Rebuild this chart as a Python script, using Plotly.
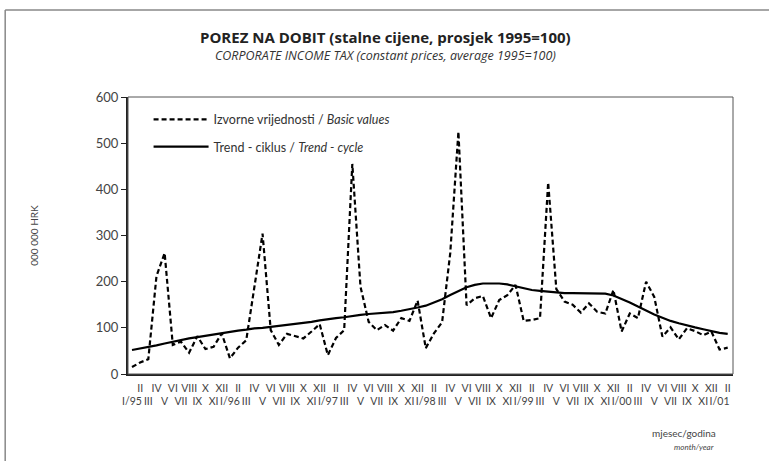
import plotly.graph_objects as go

# monthly data I/1995 - II/2001
roman = ["I", "II", "III", "IV", "V", "VI", "VII", "VIII", "IX", "X", "XI", "XII"]
years = ["95", "96", "97", "98", "99", "00", "01"]

basic_values = [15, 25, 32, 212, 262, 63, 70, 46, 82, 54, 59, 88,
                34, 57, 73, 185, 304, 95, 63, 87, 82, 77, 92, 108,
                41, 78, 95, 455, 189, 113, 95, 106, 94, 121, 115, 159,
                56, 88, 112, 262, 525, 149, 164, 169, 121, 160, 171, 193,
                115, 117, 121, 415, 184, 157, 150, 133, 153, 135, 131, 182,
                92, 131, 121, 200, 167, 81, 101, 75, 99, 93, 84, 92,
                53, 57]

trend_cycle = [52, 55, 59, 62, 66, 70, 74, 77, 80, 83, 86, 89,
               92, 94, 96, 99, 100, 102, 104, 106, 108, 110, 113, 116,
               119, 121, 123, 126, 128, 130, 131, 133, 134, 137, 140, 144,
               148, 155, 162, 171, 180, 188, 193, 196, 196, 196, 194, 190,
               186, 182, 180, 178, 176, 175, 175, 175, 175, 175, 174, 170,
               163, 155, 146, 137, 129, 122, 115, 110, 105, 101, 97, 93,
               89, 87]

n = len(basic_values)
months = list(range(n))

# tick labels: even months on upper row, odd months (with year on January) on lower row
tick_text = []
for i in months:
    m = i % 12
    if m == 0:
        tick_text.append("\u00a0<br>I/" + years[i // 12])
    elif m % 2 == 0:
        tick_text.append("\u00a0<br>" + roman[m])
    else:
        tick_text.append(roman[m])

fig = go.Figure()

fig.add_trace(go.Scatter(
    x=months, y=basic_values, mode="lines", legendgroup="a",
    name="Izvorne vrijednosti / <i>Basic values</i>",
    line=dict(color="black", width=2.2, dash="5px,3px")))

fig.add_trace(go.Scatter(
    x=months, y=trend_cycle, mode="lines", legendgroup="b",
    name="Trend - ciklus / <i>Trend - cycle</i>",
    line=dict(color="black", width=2.2)))

fig.update_layout(
    width=769, height=461,
    margin=dict(l=128, r=36, t=97, b=87),
    paper_bgcolor="white", plot_bgcolor="white",
    font=dict(family="Lato, Open Sans, sans-serif", color="#333333", size=11),
    showlegend=True,
    legend=dict(x=0.034, y=0.972, xanchor="left", yanchor="top",
                bgcolor="rgba(0,0,0,0)", font=dict(size=12.5, color="#333333"),
                itemwidth=55, tracegroupgap=8),
)

fig.update_xaxes(
    range=[-0.49, 73.65], tickmode="array", tickvals=months, ticktext=tick_text,
    tickangle=0, showgrid=False, zeroline=False, ticks="",
    showline=True, linecolor="#222222", linewidth=2, ticklabelstandoff=3,
    tickfont=dict(size=10.5, color="#444444"))

fig.update_yaxes(
    range=[0, 600], dtick=100, showgrid=False, zeroline=False,
    ticks="outside", ticklen=5, tickcolor="#222222",
    showline=True, linecolor="#222222", linewidth=2,
    tickfont=dict(size=13, color="#444444"),
    title=dict(text="000 000 HRK", font=dict(size=10, color="#444444"), standoff=55))

# thin frame around plot area, and the outer frame of the chart
fig.add_shape(type="rect", xref="paper", yref="paper", x0=0, y0=0, x1=1, y1=1,
              line=dict(color="#555555", width=1))
fig.add_shape(type="line", xref="paper", yref="paper", x0=-0.203, y0=1.314, x1=1.06, y1=1.314,
              line=dict(color="#888888", width=1.5))
fig.add_shape(type="line", xref="paper", yref="paper", x0=-0.203, y0=-0.32, x1=-0.203, y1=1.314,
              line=dict(color="#888888", width=1.5))

fig.add_annotation(text="<b>POREZ NA DOBIT (stalne cijene, prosjek 1995=100)</b>",
                   xref="paper", yref="paper", x=0.425, y=1.2166, yanchor="middle",
                   showarrow=False, font=dict(family="Open Sans", size=15, color="#222222"))
fig.add_annotation(text="<i>CORPORATE INCOME TAX (constant prices, average 1995=100)</i>",
                   xref="paper", yref="paper", x=0.425, y=1.1516, yanchor="middle",
                   showarrow=False, font=dict(family="Open Sans", size=12.5, color="#333333"))
fig.add_annotation(text="mjesec/godina", xref="paper", yref="paper",
                   x=0.975, y=-0.213, xanchor="right", yanchor="middle", showarrow=False,
                   font=dict(size=10, color="#444444"))
fig.add_annotation(text="<i>month/year</i>", xref="paper", yref="paper",
                   x=0.972, y=-0.2635, xanchor="right", yanchor="middle", showarrow=False,
                   font=dict(size=8, color="#444444"))

fig.write_html("out.html", config={"displayModeBar": False},
               post_script="document.body.style.margin='0px';")
